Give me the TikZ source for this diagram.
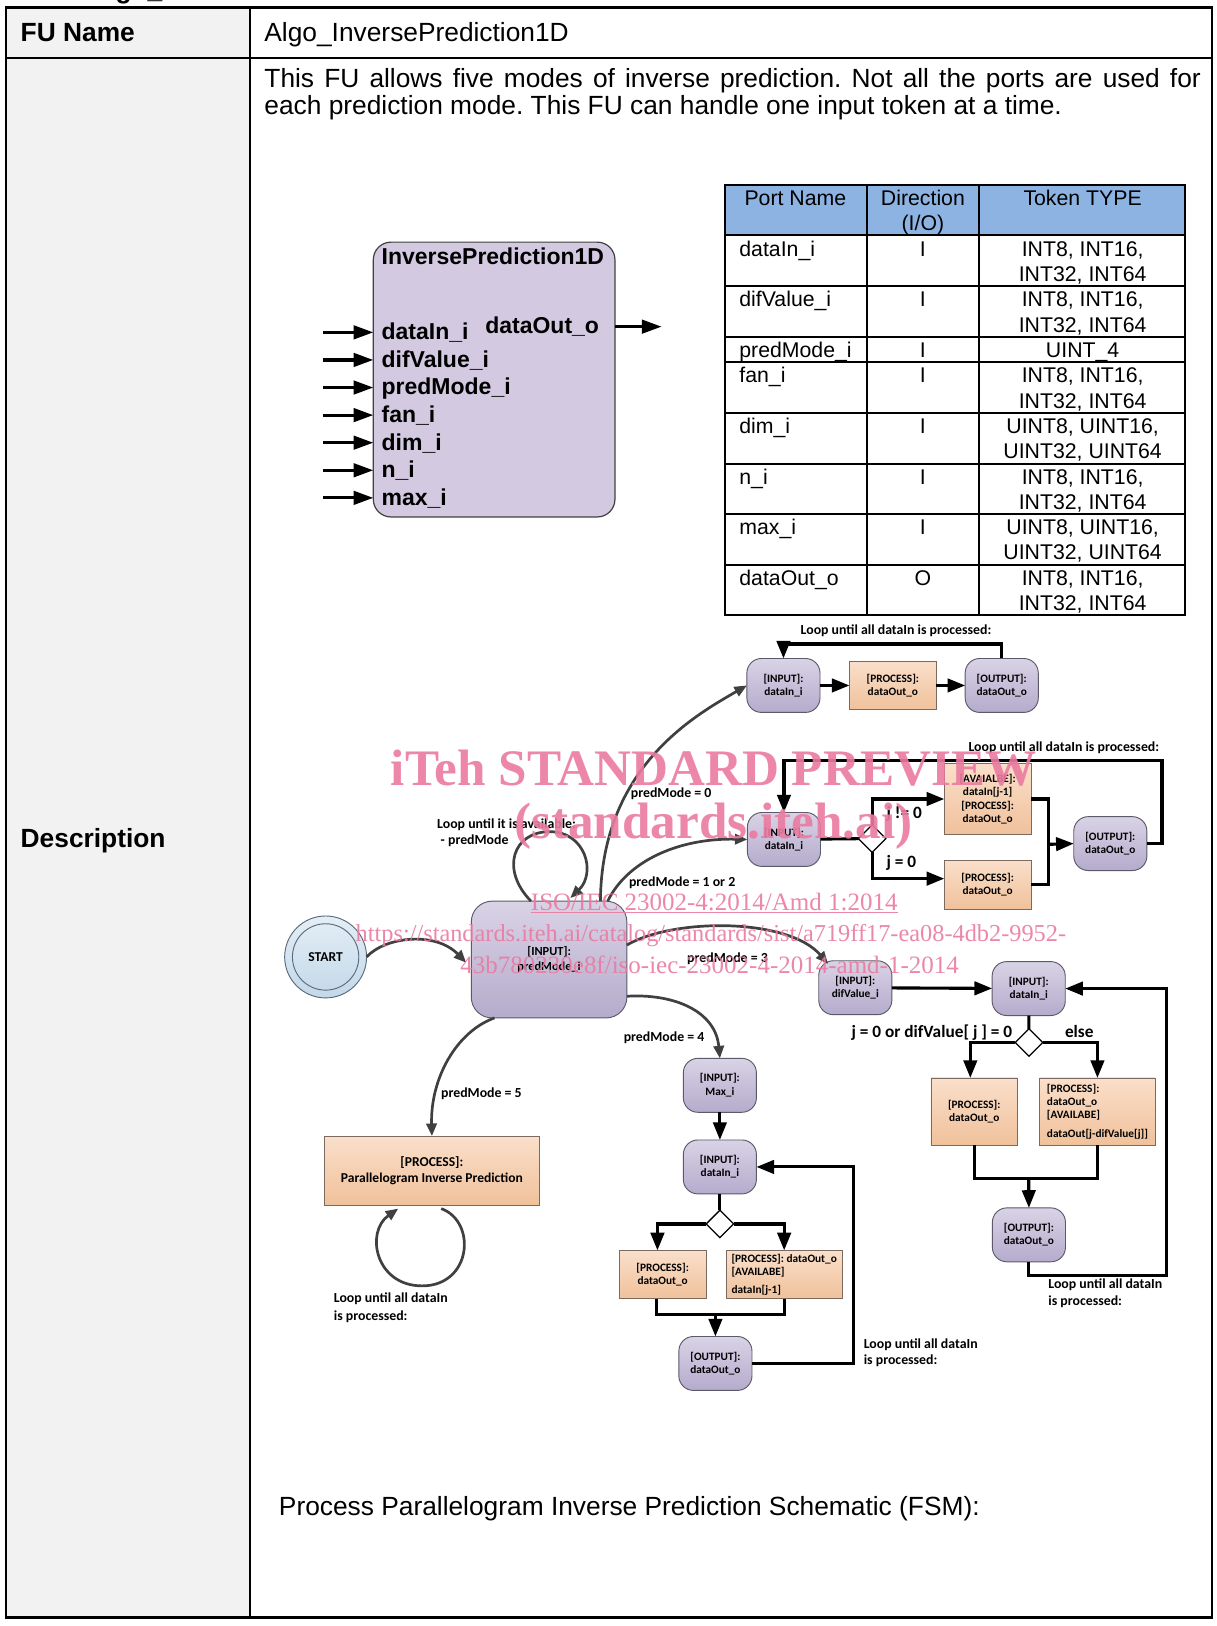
\documentclass[tikz,border=0pt]{standalone}
\usepackage{fontspec}
\setmainfont{Liberation Sans}
\newfontfamily\calfont{Carlito}
\newfontfamily\serfont{Liberation Serif}
\usetikzlibrary{arrows.meta,shapes.geometric,calc}
\frenchspacing
\newlength\UL
\setlength\UL{0.78pt}
\definecolor{cellgray}{HTML}{F2F2F2}
\definecolor{hdrblue}{HTML}{8DB3E2}
\definecolor{blkfill}{HTML}{D3C9E0}
\definecolor{blkdraw}{HTML}{404040}
\definecolor{ptop}{HTML}{D9D3E6}
\definecolor{pbot}{HTML}{B5ABCC}
\definecolor{pdraw}{HTML}{5A5A6A}
\definecolor{otop}{HTML}{FADFCA}
\definecolor{obot}{HTML}{F0C19B}
\definecolor{odraw}{HTML}{7A6A60}
\definecolor{stop}{HTML}{E4EEF6}
\definecolor{sbot}{HTML}{C3D8E9}
\definecolor{sdraw}{HTML}{5A6A7A}
\definecolor{curvecol}{HTML}{404040}
\definecolor{wmark}{HTML}{EA7BA0}
\newcommand\TabFont{\fontsize{19.8}{23}\selectfont}
\newcommand\PortFont{\fontsize{16}{19}\selectfont}
\newcommand\BlkFont{\bfseries\fontsize{17.3}{20.7}\selectfont}
\newcommand\NodeFont{\calfont\bfseries\fontsize{8.5}{10.1}\selectfont}
\newcommand\MidNodeFont{\calfont\bfseries\fontsize{9.3}{11.7}\selectfont}
\newcommand\BigNodeFont{\calfont\bfseries\fontsize{10.2}{12}\selectfont}
\newcommand\LblFont{\calfont\bfseries\fontsize{10.4}{12.4}\selectfont}
\newcommand\CondFont{\calfont\bfseries\fontsize{13}{15.6}\selectfont}
\newcommand\StartFont{\calfont\bfseries\fontsize{10.2}{12}\selectfont}
\newcommand\WmBig{\serfont\bfseries\fontsize{38.5}{42}\selectfont}
\newcommand\WmSmall{\serfont\fontsize{18.8}{21}\selectfont}
\newcommand\WmUrl{\serfont\fontsize{18.3}{21}\selectfont}
\newcommand\PRow[6]{%
  \node[tbase,font=\PortFont] (pn#1) at (713,{#2+20}) {#3};
  \node[anchor=base,font=\PortFont] (pd#1) at (890,{#2+20}) {#4};
  \node[anchor=base,font=\PortFont] (pt#1) at (1044,{#2+20}) {#5};
  \node[anchor=base,font=\PortFont] (pu#1) at (1044,{#2+44.5}) {#6};
}
\begin{document}
\begin{tikzpicture}[x=0.78pt,y=-0.78pt,
  every node/.style={inner sep=0pt,outer sep=0pt},
  tbase/.style={anchor=base west},
  pnode/.style={draw=pdraw,line width=0.7pt,top color=ptop,bottom color=pbot,
    rounded corners=14\UL,minimum width=70.5\UL,minimum height=52\UL,align=center,font=\NodeFont},
  onode/.style={draw=odraw,line width=0.6pt,top color=otop,bottom color=obot,align=center,font=\NodeFont},
  dnode/.style={draw,diamond,fill=white,line width=1.2\UL,minimum width=26.5\UL,minimum height=26.5\UL},
  flow/.style={line width=3\UL,black},
  flowarr/.style={flow,-{Triangle[length=13.3pt,width=10.1pt]}},
  carr/.style={line width=2.6\UL,draw=curvecol,-{Triangle[length=9.4pt,width=7.8pt]}},
  parr/.style={line width=3\UL,-{Triangle[length=14.8pt,width=10.1pt]}},
  port/.style={anchor=west,font=\BlkFont,inner xsep=8\UL,inner ysep=0pt,text height=11pt,text depth=0pt},
  lbl/.style={anchor=base west,font=\LblFont},
  wm/.style={anchor=base west,text=wmark,opacity=0.9}]
\useasboundingbox (0,0) rectangle (1173,1568);
\fill[white] (0,0) rectangle (1173,1568);

% heading fragment cut by the page top
\node[tbase,font=\bfseries\TabFont] (hd) at (86,-1.5) {Algo\_InversePrediction1D};

% main table
\fill[cellgray] (6,7) rectangle (241,1560);
\draw[line width=2.4\UL] (6,7) rectangle (1169,1560);
\draw[line width=2.4\UL] (241,7) -- (241,1560);
\draw[line width=2.4\UL] (6,56) -- (1169,56);
\node[tbase,font=\bfseries\TabFont] (funame) at (20,40) {FU Name};
\node[tbase,font=\TabFont] (fuval) at (255,40) {Algo\_InversePrediction1D};
\node[tbase,font=\TabFont] (dl1) at (255,84) {\makebox[903\UL][s]{This FU allows five modes of inverse prediction. Not all the ports are used for}};
\node[tbase,font=\TabFont] (dl2) at (255,110) {each prediction mode. This FU can handle one input token at a time.};
\node[tbase,font=\bfseries\TabFont] (desc) at (20,817) {Description};
\node[tbase,font=\TabFont] (cap) at (269,1461) {Process Parallelogram Inverse Prediction Schematic (FSM):};

% block
\node[draw=blkdraw,fill=blkfill,line width=0.9pt,rounded corners=17\UL,minimum width=233\UL,minimum height=265\UL] (blk) at (476.5,366) {};
\node[tbase,font=\BlkFont] (blkt) at (368,255) {InversePrediction1D};
\node[port] (pa) at (360,320.5) {dataIn\_i};
\node[port] (pb) at (360,347.1) {difValue\_i};
\node[port] (pc) at (360,373.7) {predMode\_i};
\node[port] (pdm) at (360,400.3) {fan\_i};
\node[port] (pe) at (360,426.9) {dim\_i};
\node[port] (pf) at (360,453.5) {n\_i};
\node[port] (pg) at (360,480.1) {max\_i};
\foreach \p/\y in {pa/320.5,pb/347.1,pc/373.7,pdm/400.3,pe/426.9,pf/453.5,pg/480.1}{
  \coordinate (\p0) at (311.6,\y);
  \draw[parr] (\p0) -- (\p.west);
}
\node[port,inner xsep=0pt] (pout) at (468,315) {dataOut\_o};
\coordinate (pout1) at (638,315);
\draw[parr] (blk.east |- pout.east) -- (pout1);

% port table
\fill[hdrblue] (699,178) rectangle (1143,227);
\foreach \y in {227,276,325,349,398,447,495.5,544.5}{\draw[line width=2\UL] (699,\y) -- (1143,\y);}
\foreach \x in {836,944}{\draw[line width=2\UL] (\x,178) -- (\x,593);}
\draw[line width=2\UL] (699,178) rectangle (1143,593);
\node[anchor=base,font=\PortFont] (h1) at (767,198) {Port Name};
\node[anchor=base,font=\PortFont] (h2) at (890,198) {Direction};
\node[anchor=base,font=\PortFont] (h2b) at (890,222) {(I/O)};
\node[anchor=base,font=\PortFont] (h3) at (1044,198) {Token TYPE};
\PRow{1}{227}{dataIn\_i}{I}{INT8, INT16,}{INT32, INT64}
\PRow{2}{276}{difValue\_i}{I}{INT8, INT16,}{INT32, INT64}
\node[tbase,font=\PortFont] (pn3) at (713,345) {predMode\_i};
\node[anchor=base,font=\PortFont] (pd3) at (890,345) {I};
\node[anchor=base,font=\PortFont] (pt3) at (1044,345) {UINT\_4};
\PRow{4}{349}{fan\_i}{I}{INT8, INT16,}{INT32, INT64}
\PRow{5}{398}{dim\_i}{I}{UINT8, UINT16,}{UINT32, UINT64}
\PRow{6}{447}{n\_i}{I}{INT8, INT16,}{INT32, INT64}
\PRow{7}{495.5}{max\_i}{I}{UINT8, UINT16,}{UINT32, UINT64}
\PRow{8}{544.5}{dataOut\_o}{O}{INT8, INT16,}{INT32, INT64}

% ---- FSM: predMode = 0
\node[pnode] (n1a) at (755.5,661) {[INPUT]:\\dataIn\_i};
\node[onode,minimum width=83.6\UL,minimum height=47\UL] (n1b) at (861,661) {[PROCESS]:\\dataOut\_o};
\node[pnode] (n1c) at (966,661) {[OUTPUT]:\\dataOut\_o};
\draw[flowarr] (n1a) -- (n1b);
\draw[flowarr] (n1b) -- (n1c);
\coordinate (l1) at (861,621);
\draw[flowarr] (n1c.north) |- (l1) -| (n1a.north);
\node[anchor=base,font=\LblFont] (l1t) at (864,611.5) {Loop until all dataIn is processed:};

% ---- predMode = 1 or 2
\node[pnode] (n2a) at (756,809.5) {[INPUT]:\\dataIn\_i};
\node[dnode] (d2) at (841,808.6) {};
\node[onode,minimum width=83.6\UL,minimum height=68.5\UL] (n2b) at (952.4,770.5) {[AVAIALBE]:\\dataIn[j-1]\\{}[PROCESS]:\\dataOut\_o};
\node[onode,minimum width=83.6\UL,minimum height=47.5\UL] (n2c) at (952.4,853.3) {[PROCESS]:\\dataOut\_o};
\node[pnode] (n2d) at (1070.7,813.5) {[OUTPUT]:\\dataOut\_o};
\draw[flow] (n2a) -- (d2);
\draw[flowarr] (d2.north) |- (n2b.west);
\draw[flowarr] (d2.south) |- ($(n2c.west)+(0,-6)$);
\coordinate (m2) at (1011.2,814.2);
\draw[flow] (n2b.east) -| (m2) |- (n2c.east);
\draw[flowarr] (m2) -- (n2d.west);
\coordinate (l2) at (1120.5,733);
\draw[flowarr] (n2d.east) -| (l2) -| (n2a.north);
\node[lbl,font=\CondFont] (c2a) at (855,789) {j != 0};
\node[lbl,font=\CondFont] (c2b) at (855,837) {j = 0};
\node[lbl] (l2t) at (934,725) {Loop until all dataIn is processed:};

% ---- predMode = 3
\node[pnode] (n3a) at (824.8,952.5) {[INPUT]:\\difValue\_i};
\node[pnode] (n3b) at (992,953.3) {[INPUT]:\\dataIn\_i};
\draw[flowarr] (n3a) -- (n3b);
\node[dnode] (d3) at (992.2,1005.3) {};
\draw[flow] (n3b) -- (d3);
\node[onode,minimum width=83.6\UL,minimum height=65\UL] (n3c) at (939.5,1072) {[PROCESS]:\\dataOut\_o};
\node[onode,minimum width=111.6\UL,minimum height=65\UL,align=left] (n3d) at (1058.3,1072) {[PROCESS]:\\dataOut\_o\\{}[AVAILABE]\\[4pt]dataOut[j-difValue[j]]};
\draw[flowarr] (d3.west) -| ($(n3c.north)+(-3.8,0)$);
\draw[flowarr] (d3.east) -| (n3d.north);
\coordinate (m3) at (992,1136.6);
\draw[flow] (n3c.south) |- (m3) -| (n3d.south);
\node[pnode] (n3e) at (992.2,1190.8) {[OUTPUT]:\\dataOut\_o};
\draw[flowarr] (m3) -- (n3e.north);
\coordinate (l3) at (1124.7,1229.9);
\draw[flowarr] (n3e.south) |- (l3) |- (n3b.east);
\node[anchor=base east,font=\CondFont] (c3a) at (976,1000) {j = 0 or difValue[ j ] = 0};
\node[lbl,font=\CondFont] (c3b) at (1027,1000) {else};
\node[lbl] (l3t) at (1011,1242.5) {Loop until all dataIn};
\node[lbl] (l3u) at (1011,1258.6) {is processed:};

% ---- predMode = 4
\node[pnode] (n4a) at (694.2,1046.6) {[INPUT]:\\Max\_i};
\node[pnode] (n4b) at (694.2,1125.3) {[INPUT]:\\dataIn\_i};
\draw[flowarr] (n4a) -- (n4b);
\node[dnode] (d4) at (694.2,1180.3) {};
\draw[flow] (n4b) -- (d4);
\node[onode,minimum width=84\UL,minimum height=46.6\UL] (n4c) at (639,1229.1) {[PROCESS]:\\dataOut\_o};
\node[onode,minimum width=111.7\UL,minimum height=46.6\UL,align=left] (n4d) at (756.2,1229.1) {[PROCESS]: dataOut\_o\\{}[AVAILABE]\\[3pt]dataIn[j-1]};
\draw[flowarr] (d4.west) -| ($(n4c.north)+(-5,0)$);
\draw[flowarr] (d4.east) -| (n4d.north);
\coordinate (m4) at (689.9,1267.5);
\draw[flow] ($(n4c.south)+(-5.8,0)$) |- (m4) -| (n4d.south);
\node[pnode] (n4e) at (689.9,1314.8) {[OUTPUT]:\\dataOut\_o};
\draw[flowarr] (m4) -- (n4e.north);
\coordinate (l4) at (823.4,1125.3);
\draw[flowarr] (n4e.east) -| (l4) -- (n4b.east);
\node[lbl] (l4t) at (833,1300) {Loop until all dataIn};
\node[lbl] (l4u) at (833,1316) {is processed:};

% ---- predMode = 5
\node[onode,minimum width=207.4\UL,minimum height=67\UL,font=\BigNodeFont] (n5) at (416.5,1129) {[PROCESS]:\\Parallelogram Inverse Prediction};
\draw[carr] ($(n5.south)+(9,3)$) .. controls (460,1178) and (455,1240) .. (407,1240)
  .. controls (362,1240) and (352,1188) .. ($(n5.south)+(-32.5,3)$);
\node[lbl] (l5t) at (322,1256.4) {Loop until all dataIn};
\node[lbl] (l5u) at (322,1273.4) {is processed:};

% ---- start and predMode input
\node[circle,draw=sdraw,line width=0.7pt,top color=stop,bottom color=sbot,minimum size=79\UL] (start) at (314,922.8) {};
\node[circle,draw=sdraw,line width=0.7pt,minimum size=64\UL,font=\StartFont] (starti) at (start.center) {START};
\node[pnode,minimum width=150\UL,minimum height=112.6\UL,rounded corners=20\UL,font=\MidNodeFont] (n0) at (529.5,925.3) {[INPUT]:\\predMode\_i};

\draw[carr] (start.east) .. controls (372,903) and (420,898) .. ($(n0.west)+(-5,3)$);
\draw[carr] ($(n0.north)+(-17.5,0)$) .. controls (482,838) and (495,802) .. (530,802)
  .. controls (565,802) and (575,842) .. ($(n0.north)+(20.5,-3)$);
\draw[carr] ($(n0.north)+(49.5,0)$) .. controls (580,740) and (670,690) .. (n1a.west);
\draw[carr] ($(n0.north)+(56.5,0)$) .. controls (605,830) and (655,808) .. (n2a.west);
\draw[carr] ($(n0.east)+(0,-14)$) .. controls (650,885) and (760,885) .. ($(n3a.north west)+(9,3)$);
\draw[carr] ($(n0.east)+(0,35.4)$) .. controls (650,958) and (690,975) .. (n4a.north);
\draw[carr] ($(n0.south)+(-52.7,0)$) .. controls (440,995) and (415,1040) .. (n5.north);

\node[lbl] (lp0) at (421.6,798.8) {Loop until it is available:};
\node[lbl] (lp1) at (425,814.3) {- predMode};
\node[lbl] (e0) at (608.4,769.3) {predMode = 0};
\node[lbl] (e12) at (606.6,854.5) {predMode = 1 or 2};
\node[lbl] (e3) at (662.7,928.4) {predMode = 3};
\node[lbl] (e4) at (601.5,1004.6) {predMode = 4};
\node[lbl] (e5) at (425.4,1058.6) {predMode = 5};

% ---- watermark
\node[wm,font=\WmBig] (w1) at (377,757) {iTeh STANDARD PREVIEW};
\node[wm,font=\WmBig] (w2) at (496,809) {(standards.iteh.ai)};
\node[wm,font=\WmSmall] (w3) at (512,878) {\underline{ISO/IEC 23002-4:2014/Amd 1:2014}};
\node[wm,font=\WmUrl] (w4) at (343,908) {https://standards.iteh.ai/catalog/standards/sist/a719ff17-ea08-4db2-9952-};
\node[wm,font=\WmSmall] (w5) at (444,939) {43b780230e8f/iso-iec-23002-4-2014-amd-1-2014};
\end{tikzpicture}
\end{document}
